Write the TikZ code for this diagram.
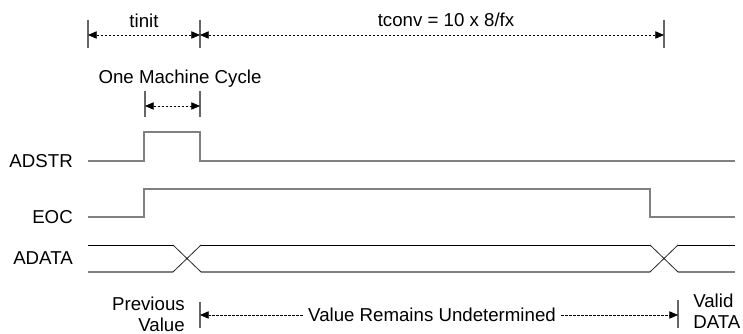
\documentclass[tikz,border=0pt]{standalone}
\usepackage{fontspec}
\setmainfont{Liberation Sans}
\usetikzlibrary{positioning,arrows.meta}

\tikzset{
  lbl/.style={font=\fontsize{14}{16}\selectfont, inner sep=0pt},
  sig/.style={draw=black!50, line width=1.1pt},
  bus/.style={draw=black, line width=0.7pt},
  xover/.style={draw=black!85, line width=0.6pt},
  tick/.style={draw=black!60, line width=0.8pt},
  dimline/.style={draw=black, line width=0.5pt, dash pattern=on 2pt off 1pt},
}

\begin{document}
\begin{tikzpicture}[x=0.75pt,y=-0.75pt,>={Triangle[length=6.5pt,width=5.5pt]}]
  \useasboundingbox (0,0) rectangle (743,334);

  % timing marks on top
  \draw[tick] (88,20) -- (88,48);
  \draw[tick] (200,20) -- (200,48);
  \draw[tick] (664,20) -- (664,48);
  \coordinate (a0) at (88,35);
  \coordinate (a1) at (200,35);
  \coordinate (a2) at (664,35);
  \draw[dimline,<->] (a0) -- (a1);
  \draw[dimline,<->] (a1) -- (a2);
  \node[lbl,anchor=base] (tinit) at (144,28) {tinit};
  \node[lbl,anchor=base] (tconv) at (446,27) {tconv = 10 x 8/fx};

  % one machine cycle
  \node[lbl,anchor=base] (cycle) at (180,84) {One Machine Cycle};
  \draw[tick] (145,91) -- (145,117);
  \draw[tick] (200,91) -- (200,117);
  \coordinate (c0) at (145,106);
  \coordinate (c1) at (200,106);
  \draw[dimline,<->] (c0) -- (c1);

  % signals
  \node[lbl,anchor=east] (adstr) at (73,161) {ADSTR};
  \node[lbl,anchor=east] (eoc) at (73,217) {EOC};
  \node[lbl,anchor=east] (adata) at (73,258.5) {ADATA};

  \draw[sig] (88,161) -- (144,161) -- (144,132) -- (200,132) -- (200,161) -- (735,161);
  \draw[sig] (88,217) -- (144,217) -- (144,189) -- (650,189) -- (650,217) -- (735,217);

  \draw[bus] (88,245) -- (173,245) (201,245) -- (650,245) (678,245) -- (735,245);
  \draw[sig] (88,272) -- (173,272) (201,272) -- (650,272) (678,272) -- (735,272);
  \draw[xover] (173,245) -- (201,272) (173,272) -- (201,245);
  \draw[xover] (650,245) -- (678,272) (650,272) -- (678,245);

  % data valid window
  \node[lbl,align=right,anchor=north east,font=\fontsize{14}{15.5}\selectfont] (prev) at (185,297) {Previous\\Value};
  \node[lbl,align=left,anchor=north west,font=\fontsize{14}{15.5}\selectfont] (valid) at (693,294) {Valid\\DATA};
  \draw[tick] (200,302) -- (200,328);
  \draw[tick] (678,300) -- (678,328);
  \coordinate (b0) at (200,315);
  \coordinate (b1) at (678,315);
  \node[lbl,inner xsep=4pt] (undet) at (432,315) {Value Remains Undetermined};
  \draw[dimline,->] (undet.west) -- (b0);
  \draw[dimline,->] (undet.east) -- (b1);
\end{tikzpicture}
\end{document}
